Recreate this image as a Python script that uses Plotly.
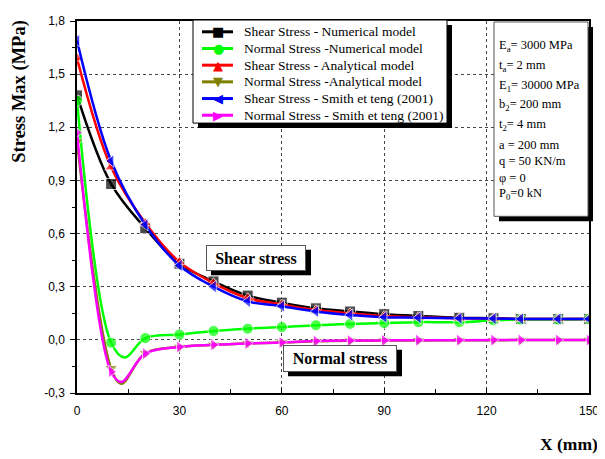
import plotly.graph_objects as go

x = [0, 10, 20, 30, 40, 50, 60, 70, 80, 90, 100, 112, 122, 130, 141, 150]
shear_num = [1.38, 0.88, 0.63, 0.43, 0.33, 0.25, 0.21, 0.178, 0.16, 0.145, 0.135, 0.125, 0.122, 0.118, 0.118, 0.118]
shear_ana = [1.59, 0.975, 0.66, 0.44, 0.32, 0.235, 0.20, 0.168, 0.15, 0.135, 0.128, 0.122, 0.12, 0.118, 0.118, 0.118]
shear_smith = [1.69, 1.01, 0.65, 0.42, 0.30, 0.217, 0.19, 0.16, 0.14, 0.128, 0.125, 0.122, 0.12, 0.118, 0.118, 0.118]

# normal-stress curves: the trough (unmarked point) is included
x_green = [0, 10, 14, 20, 30, 40, 50, 60, 70, 80, 90, 100, 112, 122, 130, 141, 150]
normal_num = [1.35, -0.016, -0.10, 0.01, 0.03, 0.05, 0.063, 0.072, 0.083, 0.09, 0.095, 0.10, 0.10, 0.11, 0.115, 0.115, 0.118]
x_norm = [0, 10, 13, 20, 30, 40, 50, 60, 70, 80, 90, 100, 112, 122, 130, 141, 150]
normal_ana = [1.12, -0.16, -0.248, -0.075, -0.04, -0.028, -0.02, -0.015, -0.008, -0.005, -0.004, -0.003, -0.002, -0.002, -0.001, -0.001, -0.001]
normal_smith = [1.17, -0.18, -0.238, -0.078, -0.04, -0.028, -0.02, -0.015, -0.007, -0.004, -0.003, -0.002, -0.002, -0.001, -0.001, -0.001, -0.001]
trough_index = 2

names = ["Shear Stress - Numerical model", "Normal Stress -Numerical model",
         "Shear Stress - Analytical model", "Normal Stress -Analytical model",
         "Shear Stress - Smith et teng (2001)", "Normal Stress - Smith et teng (2001)"]
colors = ["black", "#00ff00", "red", "#808000", "blue", "magenta"]
symbols = ["square", "circle", "triangle-up", "triangle-down", "triangle-left", "triangle-right"]
glyphs = ["■", "●", "▲", "▼", "◀", "▶"]
xs_list = [x, x_green, x, x_norm, x, x_norm]
ys_list = [shear_num, normal_num, shear_ana, normal_ana, shear_smith, normal_smith]
hidden_list = [None, trough_index, None, trough_index, None, trough_index]

y_ticks = [-0.3, 0.0, 0.3, 0.6, 0.9, 1.2, 1.5, 1.8]
y_ticktext = ["-0,3", "0,0", "0,3", "0,6", "0,9", "1,2", "1,5", "1,8"]
x_ticks = [0, 30, 60, 90, 120, 150]

params = ["E<sub>a</sub>= 3000 MPa", "t<sub>a</sub>= 2 mm", "E<sub>1</sub>= 30000 MPa",
          "b<sub>2</sub>= 200 mm", "t<sub>2</sub>= 4 mm", "a = 200 mm", "q = 50 KN/m",
          "φ = 0", "P<sub>0</sub>=0 kN"]
param_y_px = [39, 60, 80, 100, 120, 140, 157, 174, 190]

fig = go.Figure()
for name, xs, vals, col, sym, hidden in zip(names, xs_list, ys_list, colors, symbols, hidden_list):
    sizes = [11] * len(xs)
    if hidden is not None:
        sizes[hidden] = 0
    fig.add_trace(go.Scatter(
        x=xs, y=vals, name=name, mode="lines+markers", showlegend=False,
        line=dict(color=col, width=2.5, shape="spline", smoothing=1.0),
        marker=dict(color=col, symbol=sym, size=sizes),
    ))

OFF = 8  # page body margin
W, H = 605 - OFF, 459 - OFF
L, R, T, B = 69, 16, 6, 66
pw, ph = W - L - R, H - T - B


def px_x(p):
    return (p - OFF - L) / pw


def px_y(p):
    return (H - B - (p - OFF)) / ph


serif = "Liberation Serif, Times New Roman, serif"
sans = "Liberation Sans, Arial, sans-serif"


def rect(x0, y0, x1, y1, fill, line=None):
    return dict(type="rect", xref="paper", yref="paper", x0=px_x(x0), x1=px_x(x1), y0=px_y(y1), y1=px_y(y0),
                fillcolor=fill, line=line or dict(width=0), layer="above")


shapes = [
    rect(198, 18, 452, 123, "black"),
    rect(193, 13, 447, 118, "white", dict(color="black", width=1)),
    rect(499, 20, 593, 218, "black"),
    rect(494, 15, 588, 213, "white", dict(color="#555", width=1)),
    rect(211, 247, 311, 273, "black"),
    rect(288, 349, 402, 376, "black"),
]

annotations = []
for i, (nm, col, gl) in enumerate(zip(names, colors, glyphs)):
    yp = 25 + 17 * i
    shapes.append(dict(type="line", xref="paper", yref="paper", x0=px_x(202), x1=px_x(233),
                       y0=px_y(yp), y1=px_y(yp), line=dict(color=col, width=3), layer="above"))
    annotations.append(dict(xref="paper", yref="paper", x=px_x(218), y=px_y(yp), text=gl, showarrow=False,
                            xanchor="center", yanchor="middle",
                            font=dict(family="DejaVu Sans", size=13, color=col)))
    annotations.append(dict(xref="paper", yref="paper", x=px_x(242), y=px_y(yp), text=nm, showarrow=False,
                            xanchor="left", yanchor="middle",
                            font=dict(family=serif, size=13.5, color="black")))

for txt, yp in zip(params, param_y_px):
    annotations.append(dict(xref="paper", yref="paper", x=px_x(497), y=px_y(yp), text=txt,
                            showarrow=False, xanchor="left", yanchor="middle",
                            font=dict(family=serif, size=12.5, color="black")))

annotations += [
    dict(xref="paper", yref="paper", x=px_x(256), y=px_y(255), text="<b>Shear stress</b>", showarrow=False,
         font=dict(family=serif, size=16, color="black"), bgcolor="white", bordercolor="#555",
         borderwidth=1, borderpad=0, width=98, height=24, xanchor="center", yanchor="middle"),
    dict(xref="paper", yref="paper", x=px_x(340), y=px_y(357.5), text="<b>Normal stress</b>", showarrow=False,
         font=dict(family=serif, size=16, color="black"), bgcolor="white", bordercolor="#555",
         borderwidth=1, borderpad=0, width=112, height=25, xanchor="center", yanchor="middle"),
    dict(xref="paper", yref="paper", x=px_x(538), y=px_y(445), text="<b>X (mm)</b>", showarrow=False,
         xanchor="left", yanchor="middle", font=dict(family=serif, size=17.5, color="black")),
    dict(xref="paper", yref="paper", x=px_x(20), y=px_y(86), text="<b>Stress Max (MPa)</b>", showarrow=False,
         textangle=-90, xanchor="center", yanchor="middle", font=dict(family=serif, size=18.5, color="black")),
]

fig.update_layout(
    width=W, height=H,
    margin=dict(l=L, r=R, t=T, b=B),
    paper_bgcolor="white", plot_bgcolor="white",
    showlegend=False,
    shapes=shapes,
    annotations=annotations,
    xaxis=dict(range=[0, 150], tickvals=x_ticks, ticks="inside", ticklen=5, tickcolor="black",
               showline=True, linecolor="black", linewidth=1.5, mirror=True,
               showgrid=True, gridcolor="#444", griddash="dot", gridwidth=1, zeroline=False,
               minor=dict(dtick=15, tick0=0, ticks="inside", ticklen=4, tickcolor="black", showgrid=False),
               ticklabelstandoff=6,
               tickfont=dict(family=sans, size=12, color="black")),
    yaxis=dict(range=[-0.3, 1.8], tickvals=y_ticks, ticktext=y_ticktext, ticks="outside", ticklen=5,
               tickcolor="black", showline=True, linecolor="black", linewidth=1.5, mirror=True,
               showgrid=True, gridcolor="#444", griddash="dot", gridwidth=1, zeroline=False,
               minor=dict(dtick=0.15, tick0=0, ticks="outside", ticklen=3, tickcolor="black", showgrid=False),
               ticklabelstandoff=3,
               tickfont=dict(family=sans, size=12, color="black")),
)

fig.write_html("out.html")
